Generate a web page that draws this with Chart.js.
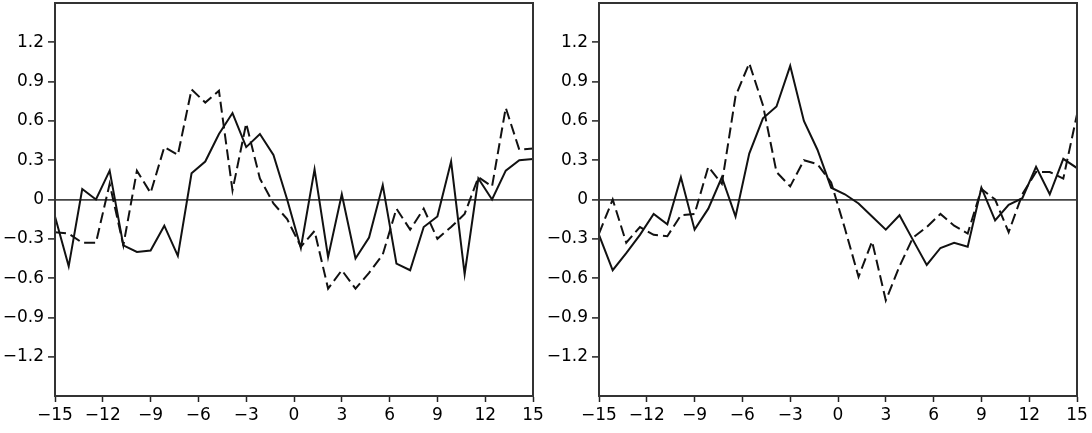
<!DOCTYPE html>
<html>
<head>
<meta charset="utf-8">
<script src="https://cdn.jsdelivr.net/npm/chart.js@4.4.1/dist/chart.umd.min.js"></script>
<style>
  html, body { margin: 0; padding: 0; background: #fff; }
  #wrap { position: relative; width: 1092px; height: 433px; }
  canvas { position: absolute; top: 0; }
</style>
</head>
<body>
<div id="wrap">
  <canvas id="left" width="544" height="433" style="left:0px"></canvas>
  <canvas id="right" width="544" height="433" style="left:544px"></canvas>
</div>
<script>
// lag positions (36 samples spanning -15..15)
const lags = [-15, -14.14, -13.29, -12.43, -11.57, -10.71, -9.86, -9, -8.14, -7.29, -6.43, -5.57,
  -4.71, -3.86, -3, -2.14, -1.29, -0.43, 0.43, 1.29, 2.14, 3, 3.86, 4.71,
  5.57, 6.43, 7.29, 8.14, 9, 9.86, 10.71, 11.57, 12.43, 13.29, 14.14, 15];

const leftSolid = [-0.13, -0.51, 0.08, 0.0, 0.22, -0.35, -0.40, -0.39, -0.20, -0.43, 0.20, 0.29,
  0.50, 0.66, 0.40, 0.50, 0.34, 0.0, -0.37, 0.23, -0.44, 0.04, -0.45, -0.29,
  0.11, -0.49, -0.54, -0.21, -0.13, 0.29, -0.57, 0.16, 0.0, 0.22, 0.30, 0.31];

const leftDashed = [-0.25, -0.26, -0.33, -0.33, 0.12, -0.35, 0.22, 0.05, 0.40, 0.34, 0.84, 0.74,
  0.83, 0.07, 0.58, 0.16, -0.03, -0.15, -0.36, -0.24, -0.68, -0.54, -0.68, -0.56,
  -0.42, -0.07, -0.23, -0.07, -0.30, -0.21, -0.11, 0.17, 0.10, 0.70, 0.38, 0.39];

const rightSolid = [-0.27, -0.54, -0.41, -0.27, -0.11, -0.19, 0.17, -0.23, -0.07, 0.17, -0.13, 0.35,
  0.62, 0.71, 1.02, 0.60, 0.38, 0.09, 0.04, -0.03, -0.13, -0.23, -0.12, -0.31,
  -0.50, -0.37, -0.33, -0.36, 0.09, -0.16, -0.04, 0.01, 0.25, 0.04, 0.31, 0.24];

const rightDashed = [-0.26, 0.0, -0.33, -0.21, -0.27, -0.28, -0.12, -0.11, 0.25, 0.12, 0.79, 1.04,
  0.72, 0.21, 0.10, 0.30, 0.27, 0.13, -0.22, -0.59, -0.32, -0.77, -0.51, -0.29,
  -0.21, -0.11, -0.20, -0.26, 0.08, 0.0, -0.25, 0.04, 0.21, 0.21, 0.16, 0.65];

const xTicks = [-15, -12, -9, -6, -3, 0, 3, 6, 9, 12, 15];
const yTicks = [-1.2, -0.9, -0.6, -0.3, 0, 0.3, 0.6, 0.9, 1.2];

const FONT = { family: "'DejaVu Sans', sans-serif", size: 17 };

function fmt(v) {
  const r = Math.round(v * 10) / 10;
  if (r === 0) return '0';
  const s = Math.abs(r).toString();
  return (r < 0 ? '\u2212' : '') + s;
}

const framePlugin = {
  id: 'frame',
  afterDraw(chart) {
    const a = chart.chartArea, c = chart.ctx;
    c.save();
    c.strokeStyle = '#333';
    c.lineWidth = 2;
    c.strokeRect(a.left, a.top, a.right - a.left, a.bottom - a.top);
    c.restore();
  }
};

function makeChart(id, solid, dashed) {
  const pts = arr => lags.map((x, i) => ({ x: x, y: arr[i] }));
  return new Chart(document.getElementById(id), {
    type: 'line',
    data: {
      datasets: [
        { data: pts(solid), borderColor: '#111', borderWidth: 2, pointRadius: 0, tension: 0, fill: false },
        { data: pts(dashed), borderColor: '#111', borderWidth: 2, borderDash: [11, 5], pointRadius: 0, tension: 0, fill: false }
      ]
    },
    options: {
      responsive: false,
      animation: false,
      devicePixelRatio: 1,
      layout: { padding: { top: 3, right: 11, left: 0, bottom: 0 }, autoPadding: false },
      plugins: { legend: { display: false }, tooltip: { enabled: false } },
      scales: {
        x: {
          type: 'linear', min: -15, max: 15,
          afterFit: s => { s.height = 37; s.paddingLeft = 0; s.paddingRight = 0; },
          afterBuildTicks: s => { s.ticks = xTicks.map(v => ({ value: v })); },
          ticks: { font: FONT, color: '#000', padding: 3, maxRotation: 0, autoSkip: false, callback: v => fmt(v) },
          grid: { drawOnChartArea: false, tickLength: 6, tickColor: '#222', tickWidth: 1.5 },
          border: { color: '#333', width: 2 }
        },
        y: {
          type: 'linear', min: -1.5, max: 1.5,
          afterFit: s => { s.width = 55; s.paddingTop = 0; s.paddingBottom = 0; },
          afterBuildTicks: s => { s.ticks = yTicks.map(v => ({ value: v })); },
          ticks: { font: FONT, color: '#000', padding: 4, autoSkip: false, callback: v => fmt(v) },
          grid: {
            drawOnChartArea: true,
            tickLength: 7,
            tickColor: '#222',
            tickWidth: 1.5,
            color: ctx => (ctx.tick && Math.abs(ctx.tick.value) < 1e-9) ? '#444' : 'rgba(0,0,0,0)',
            lineWidth: 1.8
          },
          border: { color: '#333', width: 2 }
        }
      }
    },
    plugins: [framePlugin]
  });
}

makeChart('left', leftSolid, leftDashed);
makeChart('right', rightSolid, rightDashed);
</script>
</body>
</html>
